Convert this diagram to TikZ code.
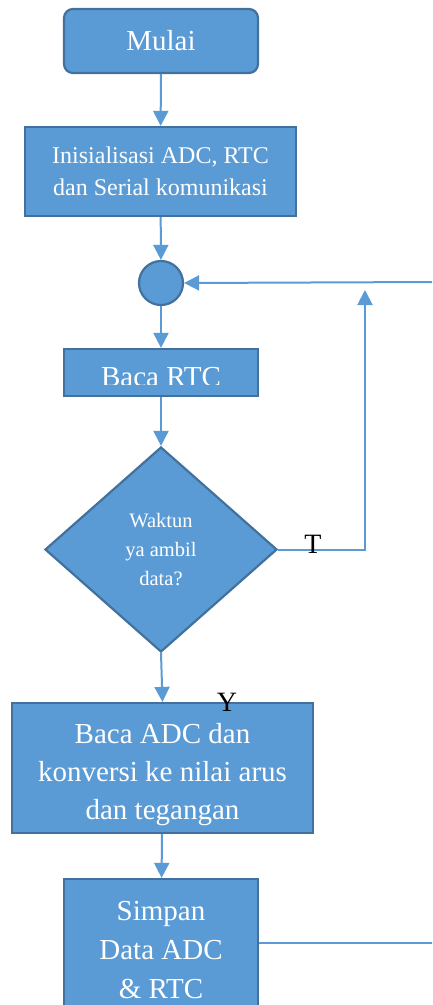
\documentclass[tikz,border=0pt]{standalone}
\usepackage{fontspec}
\setmainfont{Liberation Serif}
\usetikzlibrary{arrows.meta,shapes.geometric,calc}
\definecolor{boxfill}{HTML}{5B9BD5}
\definecolor{boxline}{HTML}{41719C}
\tikzset{
  box/.style={draw=boxline, fill=boxfill, line width=2.2pt, text=white, inner sep=0pt, align=center},
  conn/.style={draw=boxfill, line width=2pt, -{Triangle[width=15pt,length=15pt]}},
  plain/.style={draw=boxfill, line width=1.3pt},
  lbl/.style={text=black, font=\fontsize{28}{30}\selectfont, anchor=base, inner sep=0pt}
}
\begin{document}
\begin{tikzpicture}[x=1pt,y=-1pt]
\clip (0,0) rectangle (432,1005);
\fill[white] (0,0) rectangle (432,1005);
\node[box, rounded corners=9pt, minimum width=194pt, minimum height=64pt, font=\fontsize{29}{36}\selectfont] (mulai) at (161,41) {Mulai};
\node[box, minimum width=271pt, minimum height=89pt, font=\fontsize{24}{32}\selectfont] (init) at (160.5,171.5) {Inisialisasi ADC, RTC\\dan Serial komunikasi};
\node[box, circle, minimum size=44pt] (circ) at (161,283) {};
\node[box, minimum width=194pt, minimum height=47pt] (rtc) at (161,372.5) {};
\begin{scope}
\clip (66,351) rectangle (256,384);
\node[text=white, font=\fontsize{29}{36}\selectfont, anchor=base, inner sep=0pt] (rtctext) at (161,386) {Baca RTC};
\end{scope}
\node[box, diamond, minimum width=232pt, minimum height=205pt, font=\fontsize{20.5}{29}\selectfont] (dia) at (161,549.5) {Waktun\\ya ambil\\data?};
\node[box, minimum width=301pt, minimum height=130pt] (adc) at (162.5,768) {};
\node[text=white, align=center, inner sep=0pt, font=\fontsize{29}{38}\selectfont] (adctext) at (162.5,775) {Baca ADC dan\\konversi ke nilai arus\\dan tegangan};
\node[box, minimum width=194pt, minimum height=142pt, font=\fontsize{29}{39}\selectfont] (simpan) at (161,950) {Simpan\\Data ADC\\\& RTC};
\coordinate (loopT) at (365,290);
\coordinate (inR) at (434,282);
\coordinate (outS) at (434,943);
\draw[conn] (mulai) -- (init);
\draw[conn] (init) -- (circ);
\draw[conn] (circ) -- (rtc);
\draw[conn] (rtc) -- (dia);
\draw[conn] (dia.south) -- (adc.north);
\draw[conn] (adc) -- (simpan);
\draw[conn] (dia.east) -| (loopT);
\draw[conn] (inR) -- (circ.east);
\draw[plain] (simpan.east |- outS) -- (outS);
\node[lbl] (tl) at (313,553) {T};
\node[lbl] (yl) at (227,711) {Y};
\end{tikzpicture}
\end{document}
